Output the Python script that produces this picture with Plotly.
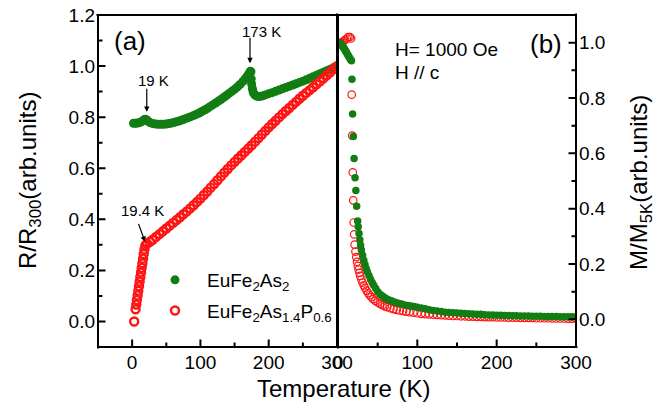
import plotly.graph_objects as go

# ---------------- data ----------------
# (a) R/R300 vs T
T_a_g = [2,5,8,11,14,17,19,21,23,26,30,34,38,42,46,50,54,58,62,66,70,74,78,82,86,90,94,98,102,106,
         110,114,118,122,126,130,134,138,142,146,150,154,158,162,165,168,170,172,173,174,174.5,175,176,177,178,
         180,183,186,190,195,200,205,210,215,220,225,230,235,240,245,250,255,260,265,270,275,280,285,290,295,300]
R_a_g = [0.776,0.776,0.777,0.779,0.783,0.789,0.792,0.790,0.785,0.779,0.775,0.773,0.772,0.772,0.772,0.773,0.775,
         0.777,0.780,0.783,0.786,0.790,0.794,0.798,0.802,0.806,0.811,0.816,0.822,0.828,0.834,0.841,0.848,0.855,
         0.862,0.869,0.877,0.885,0.893,0.901,0.909,0.918,0.928,0.939,0.949,0.958,0.966,0.974,0.980,0.978,0.950,
         0.930,0.912,0.900,0.893,0.886,0.882,0.881,0.883,0.887,0.892,0.896,0.901,0.906,0.911,0.916,0.921,0.926,
         0.931,0.936,0.941,0.946,0.952,0.958,0.964,0.970,0.976,0.982,0.988,0.994,1.0]

T_a_r = [3,5,6,7,8,9,10,11,12,13,14,15,16,17,18,19.4,22,26,30,35,40,45,50,55,60,65,70,75,80,85,90,95,100,
         105,110,115,120,125,130,135,140,145,150,155,160,165,170,175,180,185,190,195,200,205,210,215,220,225,
         230,235,240,245,250,255,260,265,270,275,280,285,290,295,300]
R_a_r = [0.0,0.048,0.066,0.084,0.102,0.120,0.138,0.156,0.174,0.192,0.210,0.228,0.246,0.264,0.282,0.298,0.305,
         0.312,0.320,0.331,0.342,0.353,0.364,0.375,0.386,0.397,0.408,0.420,0.431,0.443,0.455,0.468,0.481,0.495,
         0.509,0.524,0.538,0.553,0.568,0.583,0.597,0.611,0.625,0.638,0.651,0.664,0.677,0.690,0.704,0.718,0.732,
         0.746,0.760,0.773,0.786,0.799,0.812,0.824,0.836,0.848,0.860,0.872,0.884,0.895,0.906,0.917,0.929,0.940,
         0.952,0.964,0.976,0.988,1.0]

# (b) M/M5K vs T
T_b_g = [2,3,4,5,6,7,8,9,10,11,12,13,14,15,16,17,
         17.6,18.4,19.3,20.3,21.5,22.5,23.5,24.8,
         25.5,26.5,27.5,28.5,29.5,31,32.5,34,35.5,37,39,41,43,45,47.5,50,53,56,59,62,
         65,68,72,76,80,84,88,92,96,100,
         105,110,115,120,125,130,135,140,145,150,155,160,165,170,175,180,185,190,195,200,
         205,210,215,220,225,230,235,240,245,250,255,260,265,270,275,280,285,290,295,300]
M_b_g = [1.0,0.997,0.993,0.99,0.986,0.982,0.978,0.973,0.968,0.963,0.958,0.953,0.948,0.943,0.938,0.935,
         0.868,0.742,0.661,0.581,0.512,0.466,0.409,0.355,
         0.335,0.31,0.288,0.268,0.251,0.232,0.214,0.198,0.184,0.172,0.158,0.145,0.133,0.123,0.111,0.1,
         0.091,0.084,0.078,0.073,0.069,0.066,0.062,0.058,0.055,0.052,0.05,0.048,0.046,0.044,
         0.041,0.038,0.035,0.032,0.03,0.028,0.026,0.025,0.024,0.023,0.022,0.021,0.02,0.019,0.018,0.018,
         0.017,0.016,0.016,0.015,0.015,0.014,0.014,0.013,0.013,0.012,0.012,0.012,0.011,0.011,0.011,0.01,
         0.01,0.01,0.01,0.009,0.009,0.009,0.009,0.009]

T_b_r = [3,5,7,9,11,13,15,16.5,
         17.3,17.9,18.6,19.2,19.8,20.4,21,
         22,23,24,25,26,27,28,29.5,31,32.5,34,36,38,40,42,44.5,47,50,53,56,59,62,66,70,74,78,82,86,90,95,100,
         105,110,115,120,125,130,135,140,145,150,155,160,165,170,175,180,185,190,195,200,
         205,210,215,220,225,230,235,240,245,250,255,260,265,270,275,280,285,290,295,300]
M_b_r = [1.0,1.0,1.005,1.01,1.015,1.02,1.02,1.015,
         0.812,0.664,0.531,0.43,0.35,0.307,0.27,
         0.245,0.225,0.208,0.193,0.18,0.168,0.157,0.144,0.133,0.123,0.114,0.104,0.095,0.087,0.08,0.073,
         0.067,0.061,0.056,0.051,0.047,0.044,0.04,0.037,0.034,0.032,0.03,0.028,0.026,0.024,0.022,
         0.02,0.019,0.018,0.017,0.016,0.015,0.014,0.013,0.012,0.012,0.011,0.011,0.01,0.01,0.009,0.009,
         0.008,0.008,0.008,0.007,0.007,0.007,0.006,0.006,0.006,0.005,0.005,0.005,0.005,0.004,
         0.004,0.004,0.004,0.003,0.003,0.003,0.003,0.002,0.002,0.002]

name_g = "EuFe<sub>2</sub>As<sub>2</sub>"
name_r = "EuFe<sub>2</sub>As<sub>1.4</sub>P<sub>0.6</sub>"

x_ticks_a = [0, 100, 200, 300]
x_minor_a = [50, 150, 250]
x_ticks_b = [0, 100, 200, 300]
x_minor_b = [50, 150, 250]
y_ticks_a = [0.0, 0.2, 0.4, 0.6, 0.8, 1.0, 1.2]
y_minor_a = [0.1, 0.3, 0.5, 0.7, 0.9, 1.1]
y_ticks_b = [0.0, 0.2, 0.4, 0.6, 0.8, 1.0]
y_minor_b = [0.1, 0.3, 0.5, 0.7, 0.9]

XR_A, YR_A = [-50, 300], [-0.1, 1.2]
XR_B, YR_B = [0, 300], [-0.1, 1.1]

# ---------------- style ----------------
GREEN = "rgb(18,125,18)"
RED = "rgb(255,20,20)"
FONT = "Arial"
PW_A, PW_B, PH = 239, 238, 332
MAJ, MIN = 7, 4

fig = go.Figure()

fig.add_trace(go.Scatter(x=T_a_g, y=R_a_g, mode="markers", name=name_g, legendgroup="g",
                         marker=dict(symbol="circle", size=9, color=GREEN, line=dict(width=0)),
                         xaxis="x", yaxis="y"))
fig.add_trace(go.Scatter(x=T_a_r, y=R_a_r, mode="markers", name=name_r, legendgroup="r",
                         marker=dict(symbol="circle-open", size=8, color=RED, line=dict(width=2.4, color=RED)),
                         xaxis="x", yaxis="y"))
fig.add_trace(go.Scatter(x=T_b_r, y=M_b_r, mode="markers", showlegend=False,
                         marker=dict(symbol="circle-open", size=7.5, color=RED, line=dict(width=1.2, color=RED)),
                         xaxis="x2", yaxis="y2"))
fig.add_trace(go.Scatter(x=T_b_g, y=M_b_g, mode="markers", showlegend=False,
                         marker=dict(symbol="circle", size=7.5, color=GREEN, line=dict(width=0)),
                         xaxis="x2", yaxis="y2"))


def axis(ticks, **kw):
    d = dict(showline=False, ticks="inside", ticklen=MAJ, tickwidth=2, tickcolor="rgba(0,0,0,0)",
             tickvals=ticks, ticklabeloverflow="allow", automargin=False,
             showgrid=False, zeroline=False, ticklabelstandoff=2,
             tickfont=dict(family=FONT, size=19, color="black"))
    d.update(kw)
    return d


fig.update_layout(
    width=669, height=408,
    margin=dict(l=98, r=93, t=15, b=61, autoexpand=False),
    paper_bgcolor="white", plot_bgcolor="white",
    font=dict(family=FONT, color="black"),
    xaxis=axis(x_ticks_a, domain=[0, PW_A/478], range=XR_A, anchor="y"),
    yaxis=axis(y_ticks_a, range=YR_A, tickformat=".1f", anchor="x"),
    xaxis2=axis(x_ticks_b, domain=[(PW_A+1)/478, 1], range=XR_B, anchor="y2"),
    yaxis2=axis(y_ticks_b, range=YR_B, tickformat=".1f", side="right", anchor="x2"),
    showlegend=True,
    hovermode=False,
    legend=dict(x=(143-98)/478, y=(347-261)/332, xanchor="left", yanchor="top",
                bgcolor="rgba(0,0,0,0)", borderwidth=0, itemwidth=54, tracegroupgap=3,
                font=dict(family=FONT, size=19, color="black")),
)

ann = []
def txt(text, x, y, size, xref="paper", yref="paper", xanchor="center", yanchor="middle", angle=0):
    ann.append(dict(text=text, x=x, y=y, xref=xref, yref=yref, xanchor=xanchor, yanchor=yanchor,
                    showarrow=False, textangle=angle, font=dict(family=FONT, size=size, color="black")))

def seg(x0, y0, x1, y1, xr, yr, width=2.0, head=0, size=1.0):
    """Straight line (or arrow) from tail (x0, y0) to head (x1, y1); the head stays inside the axis range."""
    ann.append(dict(text="", x=x1, y=y1, ax=x0, ay=y0, xref=xr, yref=yr, axref=xr, ayref=yr,
                    showarrow=True, arrowhead=head, arrowsize=size, arrowwidth=width, borderpad=0,
                    arrowcolor="black", standoff=0, startstandoff=0))

# frames and inside ticks, built from the axis ranges and tick arrays
for xr, yr, XR, YR, pw, xt, xm, yt, ym, side in (
        ("x", "y", XR_A, YR_A, PW_A, x_ticks_a, x_minor_a, y_ticks_a, y_minor_a, "left"),
        ("x2", "y2", XR_B, YR_B, PW_B, x_ticks_b, x_minor_b, y_ticks_b, y_minor_b, "right")):
    dx = (XR[1] - XR[0]) / pw
    dy = (YR[1] - YR[0]) / PH
    seg(XR[1] + 2*dx, YR[0], XR[0], YR[0], xr, yr)   # bottom, head at lower-left corner
    seg(XR[1], YR[1] + 2*dy, XR[1], YR[0], xr, yr)   # right, head at lower-right corner
    seg(XR[0] - 2*dx, YR[1], XR[1], YR[1], xr, yr)   # top, head at upper-right corner
    seg(XR[0], YR[0] - 2*dy, XR[0], YR[1], xr, yr)   # left, head at upper-left corner
    for vals, L in ((xt, MAJ), (xm, MIN)):
        for v in vals:
            seg(v, YR[0] + (L + 1)*dy, v, YR[0], xr, yr)
    for vals, L in ((yt, MAJ), (ym, MIN)):
        for v in vals:
            if side == "left":
                seg(XR[0] + (L + 1)*dx, v, XR[0], v, xr, yr)
            else:
                seg(XR[1] - (L + 1)*dx, v, XR[1], v, xr, yr)

txt("(a)", (130-98)/478, (347-41)/332, 26)
txt("(b)", (546-98)/478, (347-44)/332, 26)
txt("H= 1000 Oe", (393-98)/478, (347-49)/332, 19, xanchor="left")
txt("H // c", (393-98)/478, (347-72)/332, 19, xanchor="left")
txt("Temperature (K)", (343-98)/478, (347-388)/332, 24)
txt("R/R<sub>300</sub>(arb.units)", (29-98)/478, 0.5, 24, angle=-90)
txt("M/M<sub>5K</sub>(arb.units)", (641-98)/478, 0.494, 24, angle=-90)

txt("173 K", 190, 1.137, 15, xref="x", yref="y")
txt("19 K", 32, 0.945, 15, xref="x", yref="y")
txt("19.4 K", 14.5, 0.436, 15, xref="x", yref="y")
seg(172.6, 1.113, 172.6, 1.011, "x", "y", width=1.2, head=2, size=0.9)
seg(21.4, 0.913, 21.4, 0.821, "x", "y", width=1.2, head=2, size=0.9)
seg(9.1, 0.384, 18.9, 0.312, "x", "y", width=1.2, head=2, size=0.9)

fig.update_layout(annotations=ann)
fig.write_html("out.html", config={"displayModeBar": False, "staticPlot": True},
               post_script="document.body.style.margin='0px';")
